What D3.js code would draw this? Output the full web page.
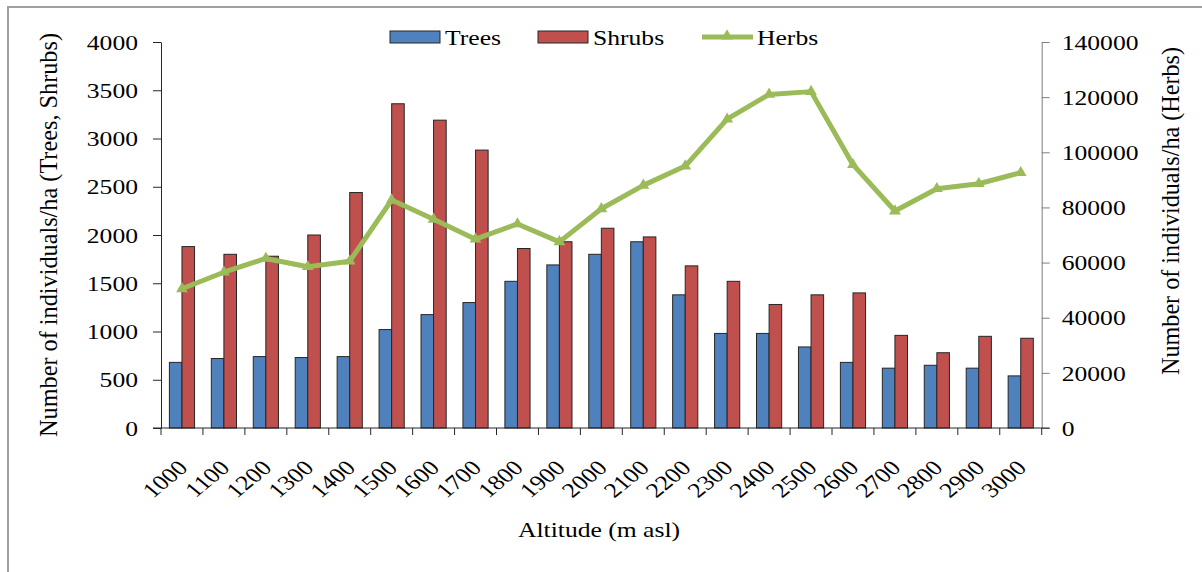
<!DOCTYPE html>
<html>
<head>
<meta charset="utf-8">
<script src="https://cdn.jsdelivr.net/npm/d3@7"></script>
<style>
  body { margin: 0; background: #fff; }
  svg text { font-family: "Liberation Serif", "Times New Roman", serif; fill: #000; }
</style>
</head>
<body>
<div id="chart"></div>
<script>

// ---- data ----
var altitudes = ["1000","1100","1200","1300","1400","1500","1600","1700","1800","1900","2000",
                 "2100","2200","2300","2400","2500","2600","2700","2800","2900","3000"];
var trees  = [680, 720, 740, 730, 740, 1020, 1175, 1300, 1520, 1690, 1800,
              1930, 1380, 980, 980, 840, 680, 620, 650, 620, 540];
var shrubs = [1880, 1800, 1780, 2000, 2440, 3360, 3190, 2880, 1860, 1930, 2070,
              1980, 1680, 1520, 1280, 1380, 1400, 960, 780, 950, 930];
var herbs  = [50500, 56500, 61500, 58500, 60500, 82700, 75700, 68500, 74000, 67500, 79500,
              88000, 95000, 112000, 121000, 122000, 95500, 78700, 86800, 88600, 92600];
var leftTicks  = [0, 500, 1000, 1500, 2000, 2500, 3000, 3500, 4000];
var rightTicks = [0, 20000, 40000, 60000, 80000, 100000, 120000, 140000];
var seriesNames = ["Trees", "Shrubs", "Herbs"];

// ---- look ----
var W = 1202, H = 572,
    plot = { left: 161, right: 1041.7, top: 42, bottom: 428 },
    sx = 1.22,            // horizontal stretch of the text in the original
    fs = 21,
    cTrees = "#4F81BD", cShrubs = "#C0504D", cHerbs = "#9BBB59";

var svg = d3.select("#chart").append("svg")
    .attr("width", W).attr("height", H);

// outer frame (left + top only)
svg.append("path")
    .attr("d", "M8," + H + " L8,7 L" + W + ",7")
    .attr("fill", "none").attr("stroke", "#a0a0a0").attr("stroke-width", 2);

// ---- scales ----
var x = d3.scaleBand().domain(altitudes).range([plot.left, plot.right]);
var yL = d3.scaleLinear().domain([0, 4000]).range([plot.bottom, plot.top]);
var yR = d3.scaleLinear().domain([0, 140000]).range([plot.bottom, plot.top]);

var bw = x.bandwidth(),
    barW = bw * 0.3,
    off = (bw - 2 * barW) / 2;

// ---- bars ----
var rows = altitudes.map(function (a, i) { return { a: a, t: trees[i], s: shrubs[i], h: herbs[i] }; });

svg.append("g").selectAll("rect").data(rows).enter().append("rect")
    .attr("x", function (d) { return x(d.a) + off; })
    .attr("y", function (d) { return yL(d.t); })
    .attr("width", barW)
    .attr("height", function (d) { return yL(0) - yL(d.t); })
    .attr("fill", cTrees).attr("stroke", "#262626").attr("stroke-width", 1);

svg.append("g").selectAll("rect").data(rows).enter().append("rect")
    .attr("x", function (d) { return x(d.a) + off + barW; })
    .attr("y", function (d) { return yL(d.s); })
    .attr("width", barW)
    .attr("height", function (d) { return yL(0) - yL(d.s); })
    .attr("fill", cShrubs).attr("stroke", "#262626").attr("stroke-width", 1);

// ---- axes ----
var gL = svg.append("g").attr("transform", "translate(" + plot.left + ",0)")
    .call(d3.axisLeft(yL).tickValues(leftTicks).tickSize(8).tickSizeOuter(0).tickFormat(d3.format("d")));
gL.select(".domain").attr("stroke", "#262626");
gL.selectAll(".tick line").attr("stroke", "#262626");
gL.selectAll(".tick text")
    .attr("x", -23 / sx).attr("dy", "0.34em")
    .attr("transform", "scale(" + sx + ",1)")
    .style("font-size", fs + "px").style("font-family", "Liberation Serif");

var gR = svg.append("g").attr("transform", "translate(" + plot.right + ",0)")
    .call(d3.axisRight(yR).tickValues(rightTicks).tickSize(8).tickSizeOuter(0).tickFormat(d3.format("d")));
gR.select(".domain").attr("stroke", "#7f7f7f");
gR.selectAll(".tick line").attr("stroke", "#7f7f7f");
gR.selectAll(".tick text")
    .attr("x", 20 / sx).attr("dy", "0.34em")
    .attr("transform", "scale(" + sx + ",1)")
    .style("font-size", fs + "px").style("font-family", "Liberation Serif");

// x axis: line, ticks on band edges, rotated labels
svg.append("line")
    .attr("x1", plot.left - 8).attr("x2", plot.right + 8)
    .attr("y1", plot.bottom).attr("y2", plot.bottom)
    .attr("stroke", "#262626");
var edges = altitudes.map(function (a) { return x(a); }).concat([x.range()[1]]);
svg.append("g").selectAll("line").data(edges).enter().append("line")
    .attr("x1", function (d) { return d; }).attr("x2", function (d) { return d; })
    .attr("y1", plot.bottom).attr("y2", plot.bottom + 7)
    .attr("stroke", "#262626");

var gX = svg.append("g").attr("transform", "translate(0," + plot.bottom + ")")
    .call(d3.axisBottom(x).tickSize(0));
gX.select(".domain").remove();
gX.selectAll(".tick text")
    .attr("y", 0).attr("dy", "0.34em")
    .attr("text-anchor", "end")
    .attr("transform", "translate(1,36) scale(" + sx + ",1) rotate(-45)")
    .style("font-size", fs + "px").style("font-family", "Liberation Serif");

// ---- herbs line ----
var line = d3.line()
    .x(function (d) { return x(d.a) + bw / 2; })
    .y(function (d) { return yR(d.h); });
svg.append("path").datum(rows)
    .attr("d", line)
    .attr("fill", "none").attr("stroke", cHerbs).attr("stroke-width", 5)
    .attr("stroke-linejoin", "round");
var tri = d3.symbol().type(d3.symbolTriangle).size(60);
svg.append("g").selectAll("path").data(rows).enter().append("path")
    .attr("d", tri)
    .attr("fill", cHerbs)
    .attr("transform", function (d) { return "translate(" + (x(d.a) + bw / 2) + "," + yR(d.h) + ")"; });

// ---- titles ----
svg.append("text")
    .attr("transform", "translate(48,235) scale(" + sx + ",1) rotate(-90)")
    .attr("text-anchor", "middle").attr("dy", "0.34em")
    .attr("textLength", 404).attr("lengthAdjust", "spacingAndGlyphs")
    .style("font-size", fs + "px")
    .text("Number of individuals/ha (Trees, Shrubs)");

svg.append("text")
    .attr("transform", "translate(1170,211) scale(" + sx + ",1) rotate(-90)")
    .attr("text-anchor", "middle").attr("dy", "0.34em")
    .attr("textLength", 328).attr("lengthAdjust", "spacingAndGlyphs")
    .style("font-size", fs + "px")
    .text("Number of individuals/ha (Herbs)");

svg.append("text")
    .attr("transform", "translate(599,537) scale(" + sx + ",1)")
    .attr("text-anchor", "middle")
    .style("font-size", fs + "px")
    .text("Altitude (m asl)");

// ---- legend ----
var legend = svg.append("g");
var legItems = [
  { name: seriesNames[0], x: 390, kind: "bar", color: cTrees },
  { name: seriesNames[1], x: 538, kind: "bar", color: cShrubs },
  { name: seriesNames[2], x: 702, kind: "line", color: cHerbs }
];
legItems.forEach(function (it) {
  if (it.kind === "bar") {
    legend.append("rect")
        .attr("x", it.x).attr("y", 31).attr("width", 50).attr("height", 12)
        .attr("fill", it.color).attr("stroke", "#262626").attr("stroke-width", 1);
  } else {
    legend.append("line")
        .attr("x1", it.x).attr("x2", it.x + 51).attr("y1", 37).attr("y2", 37)
        .attr("stroke", it.color).attr("stroke-width", 5);
    legend.append("path").attr("d", tri).attr("fill", it.color)
        .attr("transform", "translate(" + (it.x + 25) + ",36)");
  }
  legend.append("text")
      .attr("transform", "translate(" + (it.x + 55) + ",45) scale(" + sx + ",1)")
      .style("font-size", fs + "px")
      .text(it.name);
});

</script>
</body>
</html>
